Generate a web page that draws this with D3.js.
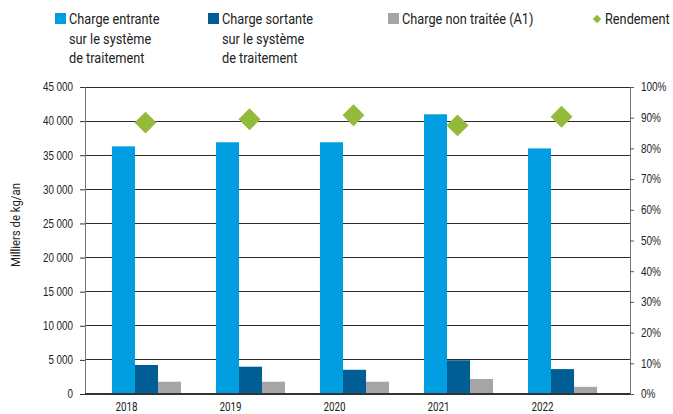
<!DOCTYPE html>
<html>
<head>
<meta charset="utf-8">
<script src="https://cdn.jsdelivr.net/npm/d3@7"></script>
<style>
  html,body{margin:0;padding:0;background:#fff;}
  svg{display:block;font-family:Roboto,"Noto Sans",sans-serif;}
</style>
</head>
<body>
<div id="chart"></div>
<script>
// Charges (milliers de kg/an) + rendement (%) par année
const years = ["2018","2019","2020","2021","2022"];
const entrante = [36300, 36900, 36900, 41000, 36000];
const sortante = [4250, 4000, 3550, 4950, 3650];
const nonTraitee = [1800, 1800, 1800, 2200, 1050];
const rendement = [88.4, 89.5, 90.8, 87.5, 90.3];
const leftTicks = [0,5000,10000,15000,20000,25000,30000,35000,40000,45000];
const rightTicks = [0,10,20,30,40,50,60,70,80,90,100];

const series = [
  {key:"entrante", vals:entrante, color:"#009ee0", label:["Charge entrante","sur le système","de traitement"]},
  {key:"sortante", vals:sortante, color:"#005e95", label:["Charge sortante","sur le système","de traitement"]},
  {key:"nonTraitee", vals:nonTraitee, color:"#a5a5a5", label:["Charge non traitée (A1)"]}
];

const W=673, H=414, m={l:85,r:43,t:87,b:20};
const svg = d3.select("#chart").append("svg").attr("width",W).attr("height",H);

// police étroite simulée : écrasement horizontal
function condense(sel, sx){
  sel.each(function(){
    const t=d3.select(this), x=+t.attr("x")||0, tr=t.attr("transform")||"";
    t.attr("x", x/sx).attr("transform", `${tr} scale(${sx},1)`);
  });
}

const x = d3.scaleBand().domain(years).range([m.l, W-m.r]).paddingInner(0.336).paddingOuter(0.288).align(0.45);
const xs = d3.scaleBand().domain(series.map(s=>s.key)).range([0, x.bandwidth()]);
const y = d3.scaleLinear().domain([0,45000]).range([H-m.b, m.t]);
const y2 = d3.scaleLinear().domain([0,100]).range([H-m.b, m.t]);
const fmt = d=> d3.format(",")(d).replace(/,/g," ");

// grille
svg.append("g").selectAll("line").data(leftTicks.slice(1)).join("line")
  .attr("x1",m.l).attr("x2",W-m.r).attr("y1",d=>y(d)).attr("y2",d=>y(d))
  .attr("stroke","#2a2a2a").attr("stroke-width",1).attr("shape-rendering","crispEdges");

// axe gauche
const ga = svg.append("g").attr("transform",`translate(${m.l},0)`)
  .call(d3.axisLeft(y).tickValues(leftTicks).tickFormat(fmt).tickSize(5).tickPadding(7));
ga.select(".domain").attr("stroke","#777");
ga.selectAll(".tick line").attr("stroke","#333");
ga.selectAll("text").attr("font-size",12).attr("fill","#222").attr("font-family",null).call(condense,0.82);

// axe droit
const gr = svg.append("g").attr("transform",`translate(${W-m.r},0)`)
  .call(d3.axisRight(y2).tickValues(rightTicks).tickFormat(d=>d+"%").tickSize(4).tickPadding(7));
gr.select(".domain").attr("stroke","#777");
gr.selectAll(".tick line").attr("stroke","#555");
gr.selectAll("text").attr("font-size",12).attr("fill","#222").attr("font-family",null).call(condense,0.83);

// barres
series.forEach(s=>{
  svg.append("g").selectAll("rect").data(years).join("rect")
    .attr("x",d=>x(d)+xs(s.key)).attr("width",xs.bandwidth())
    .attr("y",(d,i)=>y(s.vals[i])).attr("height",(d,i)=>y(0)-y(s.vals[i]))
    .attr("fill",s.color);
});

// axe bas
svg.append("line").attr("x1",m.l).attr("x2",W-m.r).attr("y1",y(0)).attr("y2",y(0))
  .attr("stroke","#333").attr("stroke-width",2);

// années
svg.append("g").selectAll("text").data(years).join("text")
  .attr("transform",d=>`translate(${x(d)+xs.bandwidth()/2+3},411)`).attr("text-anchor","middle")
  .attr("font-size",12).attr("fill","#222").text(d=>d).call(condense,0.82);

// rendement
const sym = d3.symbol().type(d3.symbolSquare).size(240);
svg.append("g").selectAll("path").data(years).join("path")
  .attr("d",sym)
  .attr("transform",(d,i)=>`translate(${x(d)+x.bandwidth()/2-1},${y2(rendement[i])}) rotate(45)`)
  .attr("fill","#93ba3b");

// titre axe
svg.append("text").attr("transform",`translate(20,225) rotate(-90)`).attr("text-anchor","middle")
  .attr("font-size",13).attr("fill","#222").text("Milliers de kg/an").call(condense,0.875);

// légende
const lx=[55,208,388];
series.forEach((s,i)=>{
  const g = svg.append("g").attr("transform",`translate(${lx[i]},13)`);
  g.append("rect").attr("width",11).attr("height",11).attr("fill",s.color);
  s.label.forEach((t,j)=> g.append("text").attr("transform",`translate(14,${11+j*19.5})`)
    .attr("font-size",14.5).attr("fill","#222").text(t).call(condense,0.88));
});
const lr = svg.append("g").attr("transform","translate(597,19)");
lr.append("path").attr("d",d3.symbol().type(d3.symbolSquare).size(36)).attr("transform","rotate(45)").attr("fill","#93ba3b");
lr.append("text").attr("transform","translate(8,5)").attr("font-size",14.5).attr("fill","#222").text("Rendement").call(condense,0.88);
</script>
</body>
</html>
